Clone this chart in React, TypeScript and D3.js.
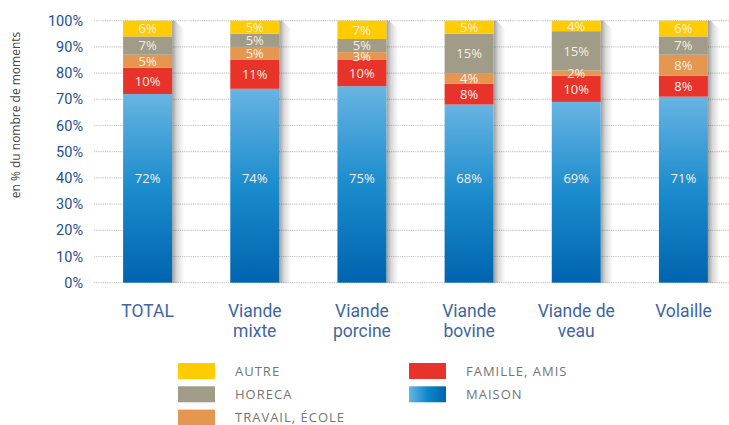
import React from "react";
import * as d3 from "d3";

const categories: string[][] = [
  ["TOTAL"],
  ["Viande", "mixte"],
  ["Viande", "porcine"],
  ["Viande", "bovine"],
  ["Viande de", "veau"],
  ["Volaille"],
];
const maison = [72, 74, 75, 68, 69, 71];
const famille = [10, 11, 10, 8, 10, 8];
const travail = [5, 5, 3, 4, 2, 8];
const horeca = [7, 5, 5, 15, 15, 7];
const autre = [6, 5, 7, 5, 4, 6];
const yTicks = [0, 10, 20, 30, 40, 50, 60, 70, 80, 90, 100];

const seriesNames = ["MAISON", "FAMILLE, AMIS", "TRAVAIL, ÉCOLE", "HORECA", "AUTRE"];
const seriesValues = [maison, famille, travail, horeca, autre];
const seriesFill = ["url(#maisonGrad)", "#E8332B", "#E5964F", "#A09C87", "#FFCC00"];

const W = 729;
const H = 425;

export default function App() {
  const x = d3
    .scaleBand<number>()
    .domain(d3.range(categories.length))
    .range([94, 737])
    .paddingInner(0.543)
    .paddingOuter(0.2715);
  const y = d3.scaleLinear().domain([0, 100]).range([282.7, 20.7]);

  const rows = categories.map((_, i) => {
    const o: any = { i };
    seriesNames.forEach((n, k) => (o[n] = seriesValues[k][i]));
    return o;
  });
  const stack = d3.stack<any>().keys(seriesNames)(rows);
  const bw = x.bandwidth();

  const legend = [
    { name: "AUTRE", fill: "#FFCC00", col: 0, row: 0 },
    { name: "HORECA", fill: "#A09C87", col: 0, row: 1 },
    { name: "TRAVAIL, ÉCOLE", fill: "#E5964F", col: 0, row: 2 },
    { name: "FAMILLE, AMIS", fill: "#E8332B", col: 1, row: 0 },
    { name: "MAISON", fill: "url(#maisonLegGrad)", col: 1, row: 1 },
  ];

  return (
    <div style={{ position: "fixed", left: 0, top: 0 }}>
      <svg width={W} height={H} style={{ display: "block", background: "#fff" }}>
        <defs>
          <linearGradient id="maisonGrad" x1="0" y1="0" x2="0" y2="1">
            <stop offset="0" stopColor="#68B4E2" />
            <stop offset="0.5" stopColor="#1B8CCD" />
            <stop offset="1" stopColor="#0064AE" />
          </linearGradient>
          <linearGradient id="maisonLegGrad" x1="0" y1="0" x2="1" y2="0">
            <stop offset="0" stopColor="#6AB5E3" />
            <stop offset="0.5" stopColor="#0A88CA" />
            <stop offset="1" stopColor="#0063AE" />
          </linearGradient>
          <linearGradient id="shadowGrad" x1="0" y1="0" x2="1" y2="0">
            <stop offset="0" stopColor="#000" stopOpacity="0.38" />
            <stop offset="0.4" stopColor="#000" stopOpacity="0.15" />
            <stop offset="1" stopColor="#000" stopOpacity="0" />
          </linearGradient>
        </defs>

        {/* gridlines */}
        {yTicks.map((t) => (
          <line
            key={"g" + t}
            x1={94}
            x2={729}
            y1={y(t)}
            y2={y(t)}
            stroke="#C8C8C8"
            strokeWidth={1.2}
            strokeDasharray="1.2 1"
          />
        ))}

        {/* y tick labels */}
        {yTicks.map((t) => (
          <text
            key={"t" + t}
            x={83}
            y={y(t)}
            dy="0.35em"
            textAnchor="end"
            fontFamily="Roboto, 'Noto Sans', sans-serif"
            fontSize={14.5}
            fill="#1F4E8E"
          >
            {t}%
          </text>
        ))}

        {/* y title */}
        <text
          transform={`translate(15,115) rotate(-90)`}
          textAnchor="middle"
          dominantBaseline="central"
          fontFamily="'Open Sans', sans-serif"
          fontSize={12}
          fill="#444"
        >
          en % du nombre de moments
        </text>

        {/* shadows */}
        {categories.map((_, i) => {
          const x1 = (x(i) as number) + bw;
          const top = y(100);
          const bottom = y(0);
          return (
            <polygon
              key={"s" + i}
              points={`${x1},${top} ${x1 + 3},${top} ${x1 + 12},${top + 9} ${x1 + 12},${bottom} ${x1},${bottom}`}
              fill="url(#shadowGrad)"
            />
          );
        })}

        {/* bars */}
        {stack.map((layer, k) =>
          layer.map((d, i) => (
            <rect
              key={"b" + k + "-" + i}
              x={x(i)}
              y={y(d[1])}
              width={bw}
              height={y(d[0]) - y(d[1])}
              fill={seriesFill[k]}
            />
          ))
        )}

        {/* bar labels */}
        {stack.map((layer, k) =>
          layer.map((d, i) => {
            const v = seriesValues[k][i];
            const cy = k === 0 ? y(39.7) : y((d[0] + d[1]) / 2);
            return (
              <text
                key={"l" + k + "-" + i}
                x={(x(i) as number) + bw / 2}
                y={cy}
                dy="0.36em"
                textAnchor="middle"
                fontFamily="'Open Sans', sans-serif"
                fontSize={13}
                fill="#F4EFE4"
              >
                {v}%
              </text>
            );
          })
        )}

        {/* x labels */}
        {categories.map((lines, i) => (
          <text
            key={"x" + i}
            textAnchor="middle"
            fontFamily="Roboto, 'Noto Sans', sans-serif"
            fontSize={17.5}
            fill="#3F66A3"
          >
            {lines.map((ln, j) => (
              <tspan key={j} x={(x(i) as number) + bw / 2} y={316.5 + j * 20}>
                {ln}
              </tspan>
            ))}
          </text>
        ))}

        {/* legend */}
        {legend.map((l) => {
          const sx = l.col === 0 ? 178 : 409;
          const sy = 363 + l.row * 23.3;
          return (
            <g key={l.name}>
              <rect x={sx} y={sy} width={37} height={16} fill={l.fill} />
              <text
                x={sx + 57}
                y={sy + 12.5}
                fontFamily="'Open Sans', sans-serif"
                fontSize={13}
                letterSpacing={1}
                fill="#747474"
              >
                {l.name}
              </text>
            </g>
          );
        })}
      </svg>
    </div>
  );
}
